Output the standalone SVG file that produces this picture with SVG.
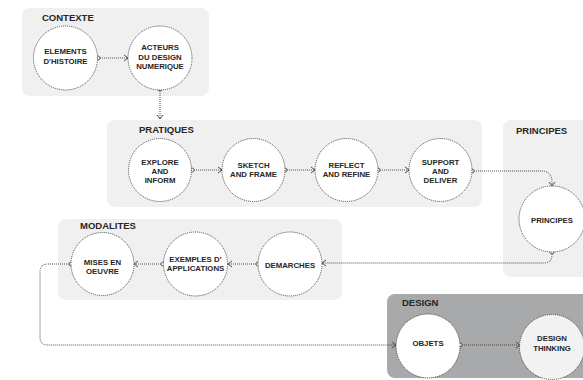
<svg xmlns="http://www.w3.org/2000/svg" width="583" height="380" viewBox="0 0 583 380">
  <defs>
    <style>
      .panel { fill: #f0f0f1; }
      .panel-dark { fill: #a8a9ab; }
      .node { fill: #ffffff; stroke: #3a3a3a; stroke-width: 0.9; stroke-dasharray: 1 1; }
      .node-soft { fill: #f2f2f2; stroke: #3a3a3a; stroke-width: 0.9; stroke-dasharray: 1 1; }
      .title { font-family: "Liberation Sans", Arial, sans-serif; font-weight: bold; font-size: 9.5px; fill: #262626; }
      .label { font-family: "Liberation Sans", Arial, sans-serif; font-weight: bold; font-size: 7.8px; fill: #262626; text-anchor: middle; }
      .link { fill: none; stroke: #3a3a3a; stroke-width: 0.9; stroke-dasharray: 1 1; marker-start: url(#dot); marker-end: url(#chev); }
    </style>
    <marker id="chev" viewBox="0 0 6 8" refX="5" refY="4" markerWidth="6" markerHeight="8" markerUnits="userSpaceOnUse" orient="auto">
      <path d="M1,1 L5,4 L1,7" fill="none" stroke="#3a3a3a" stroke-width="0.9"/>
    </marker>
    <marker id="dot" viewBox="0 0 6 6" refX="3" refY="3" markerWidth="6" markerHeight="6" markerUnits="userSpaceOnUse" orient="auto">
      <circle cx="3" cy="3" r="2" fill="#ffffff" stroke="#3a3a3a" stroke-width="0.8"/>
    </marker>
  </defs>

  <!-- panels -->
  <g id="contexte">
    <rect class="panel" x="22" y="8" width="187" height="88" rx="8"/>
    <text class="title" x="42" y="21">CONTEXTE</text>
  </g>
  <g id="pratiques">
    <rect class="panel" x="107" y="120" width="375" height="87" rx="8"/>
    <text class="title" x="139" y="133">PRATIQUES</text>
  </g>
  <g id="principes-panel">
    <rect class="panel" x="503" y="120" width="95" height="157" rx="8"/>
    <text class="title" x="516" y="134">PRINCIPES</text>
  </g>
  <g id="modalites">
    <rect class="panel" x="58" y="219" width="284" height="81" rx="8"/>
    <text class="title" x="80" y="229">MODALITES</text>
  </g>
  <g id="design">
    <rect class="panel-dark" x="387" y="294" width="211" height="84" rx="8"/>
    <text class="title" x="402" y="306">DESIGN</text>
  </g>

  <!-- connectors -->
  <g id="connectors">
    <path class="link" d="M98,58 H128"/>
    <path class="link" d="M160,89 V119"/>
    <path class="link" d="M192,170 H222"/>
    <path class="link" d="M285,170 H315"/>
    <path class="link" d="M378,170 H409"/>
    <path class="link" d="M472,171 H541 Q552,171 552,182 V186"/>
    <path class="link" d="M552,252 V255 Q552,263 544,263 H322"/>
    <path class="link" d="M258,264 H228"/>
    <path class="link" d="M163,264 H134"/>
    <path class="link" d="M71,264 H48 Q40,264 40,272 V337 Q40,345 48,345 H396"/>
    <path class="link" d="M460,345 H520"/>
  </g>

  <!-- nodes -->
  <g id="elements-histoire">
    <circle class="node" cx="65.5" cy="58" r="32"/>
    <text class="label" x="65.5" y="54">ELEMENTS</text>
    <text class="label" x="65.5" y="63.5">D'HISTOIRE</text>
  </g>
  <g id="acteurs">
    <circle class="node" cx="160" cy="58" r="32"/>
    <text class="label" x="160" y="50">ACTEURS</text>
    <text class="label" x="160" y="59.5">DU DESIGN</text>
    <text class="label" x="160" y="69">NUMERIQUE</text>
  </g>
  <g id="explore">
    <circle class="node" cx="160" cy="170" r="31.5"/>
    <text class="label" x="160" y="165">EXPLORE</text>
    <text class="label" x="160" y="174">AND</text>
    <text class="label" x="160" y="183">INFORM</text>
  </g>
  <g id="sketch">
    <circle class="node" cx="253.5" cy="170" r="31.5"/>
    <text class="label" x="253.5" y="167.5">SKETCH</text>
    <text class="label" x="253.5" y="177">AND FRAME</text>
  </g>
  <g id="reflect">
    <circle class="node" cx="346.5" cy="170" r="31.5"/>
    <text class="label" x="346.5" y="167.5">REFLECT</text>
    <text class="label" x="346.5" y="177">AND REFINE</text>
  </g>
  <g id="support">
    <circle class="node" cx="440.5" cy="170" r="31.5"/>
    <text class="label" x="440.5" y="165">SUPPORT</text>
    <text class="label" x="440.5" y="174">AND</text>
    <text class="label" x="440.5" y="183">DELIVER</text>
  </g>
  <g id="principes">
    <circle class="node" cx="552" cy="219" r="33"/>
    <text class="label" x="552" y="222.5">PRINCIPES</text>
  </g>
  <g id="demarches">
    <circle class="node" cx="290" cy="264" r="32"/>
    <text class="label" x="290" y="268">DEMARCHES</text>
  </g>
  <g id="exemples">
    <circle class="node" cx="195.5" cy="264" r="32"/>
    <text class="label" x="195.5" y="262">EXEMPLES D’</text>
    <text class="label" x="195.5" y="270.5">APPLICATIONS</text>
  </g>
  <g id="mises-en-oeuvre">
    <circle class="node" cx="102.5" cy="264" r="31.5"/>
    <text class="label" x="102.5" y="264.5">MISES EN</text>
    <text class="label" x="102.5" y="273.5">OEUVRE</text>
  </g>
  <g id="objets">
    <circle class="node" cx="428" cy="346" r="32"/>
    <text class="label" x="428" y="345.5">OBJETS</text>
  </g>
  <g id="design-thinking">
    <circle class="node-soft" cx="552" cy="347" r="32.5"/>
    <text class="label" x="552" y="341">DESIGN</text>
    <text class="label" x="552" y="350.5">THINKING</text>
  </g>
</svg>
